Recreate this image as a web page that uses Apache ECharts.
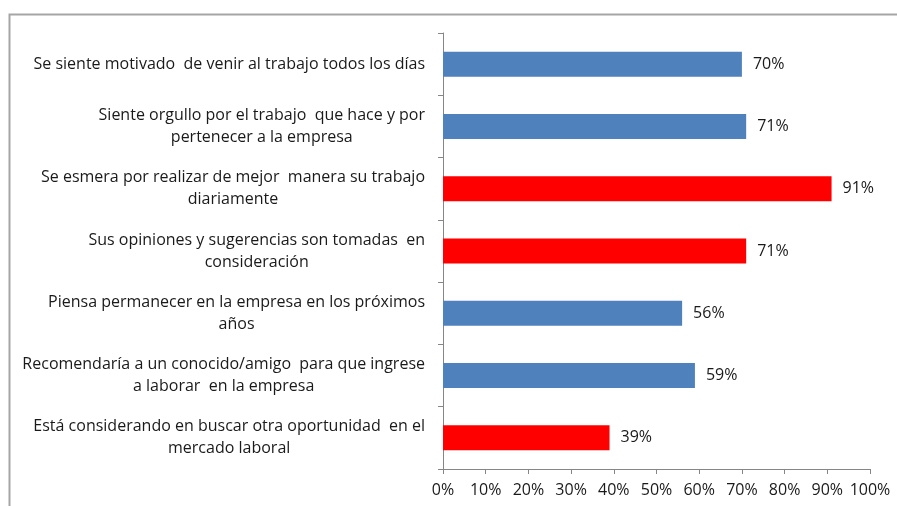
<!DOCTYPE html>
<html>
<head>
<meta charset="utf-8">
<script src="https://cdn.jsdelivr.net/npm/echarts@6/dist/echarts.min.js"></script>
<style>
    html, body { margin: 0; padding: 0; background: #fff; }
    #main { width: 897px; height: 506px; }
</style>
</head>
<body>
<div id="main"></div>
<script>
// categories, top to bottom
const categories = [
    "Se siente motivado  de venir al trabajo todos los días",
    "Siente orgullo por el trabajo  que hace y por\npertenecer a la empresa",
    "Se esmera por realizar de mejor  manera su trabajo\ndiariamente",
    "Sus opiniones y sugerencias son tomadas  en\nconsideración",
    "Piensa permanecer en la empresa en los próximos\naños",
    "Recomendaría a un conocido/amigo  para que ingrese\na laborar  en la empresa",
    "Está considerando en buscar otra oportunidad  en el\nmercado laboral"
];
const values = [70, 71, 91, 71, 56, 59, 39];
const highlighted = [false, false, true, true, false, false, true];
const xTicks = [0, 10, 20, 30, 40, 50, 60, 70, 80, 90, 100];

const fontFam = "'Open Sans', 'Liberation Sans', sans-serif";

function drawChart() {
    let myChart = echarts.init(document.getElementById("main"));

    let barData = values.map(function (v, i) {
        return {
            value: v,
            itemStyle: { color: highlighted[i] ? "#ff0000" : "#4f81bd" }
        };
    });

    let option = {
        animation: false,
        backgroundColor: "#ffffff",
        graphic: [
            {
                type: "rect",
                left: 7,
                top: 12,
                shape: { width: 1000, height: 1000 },
                style: { fill: "none", stroke: "#a6a6a6", lineWidth: 2 },
                silent: true
            }
        ],
        grid: {
            left: 443,
            right: 27,
            top: 33,
            bottom: 37
        },
        xAxis: {
            type: "value",
            min: xTicks[0],
            max: xTicks[xTicks.length - 1],
            interval: 10,
            splitLine: { show: false },
            axisLine: { show: true, lineStyle: { color: "#868686", width: 1 } },
            axisTick: { show: true, length: 5, lineStyle: { color: "#868686" } },
            axisLabel: {
                formatter: "{value}%",
                color: "#1a1a1a",
                fontSize: 16,
                fontFamily: fontFam,
                margin: 13
            }
        },
        yAxis: {
            type: "category",
            data: categories,
            inverse: true,
            axisLine: { show: true, lineStyle: { color: "#868686", width: 1 } },
            axisTick: { show: true, length: 5, lineStyle: { color: "#868686" } },
            axisLabel: {
                margin: 18,
                align: "right",
                formatter: function (v) {
                    return v.split("\n").map(function (l) { return "{c|" + l + "}"; }).join("\n");
                },
                rich: {
                    c: {
                        align: "center",
                        color: "#1a1a1a",
                        fontSize: 16,
                        fontFamily: fontFam,
                        lineHeight: 22
                    }
                }
            }
        },
        series: [
            {
                type: "bar",
                data: barData,
                barWidth: 25,
                label: {
                    show: true,
                    position: "right",
                    distance: 11,
                    formatter: "{c}%",
                    color: "#1a1a1a",
                    fontSize: 16,
                    fontFamily: fontFam
                }
            }
        ]
    };

    myChart.setOption(option);
}

drawChart();
</script>
</body>
</html>
